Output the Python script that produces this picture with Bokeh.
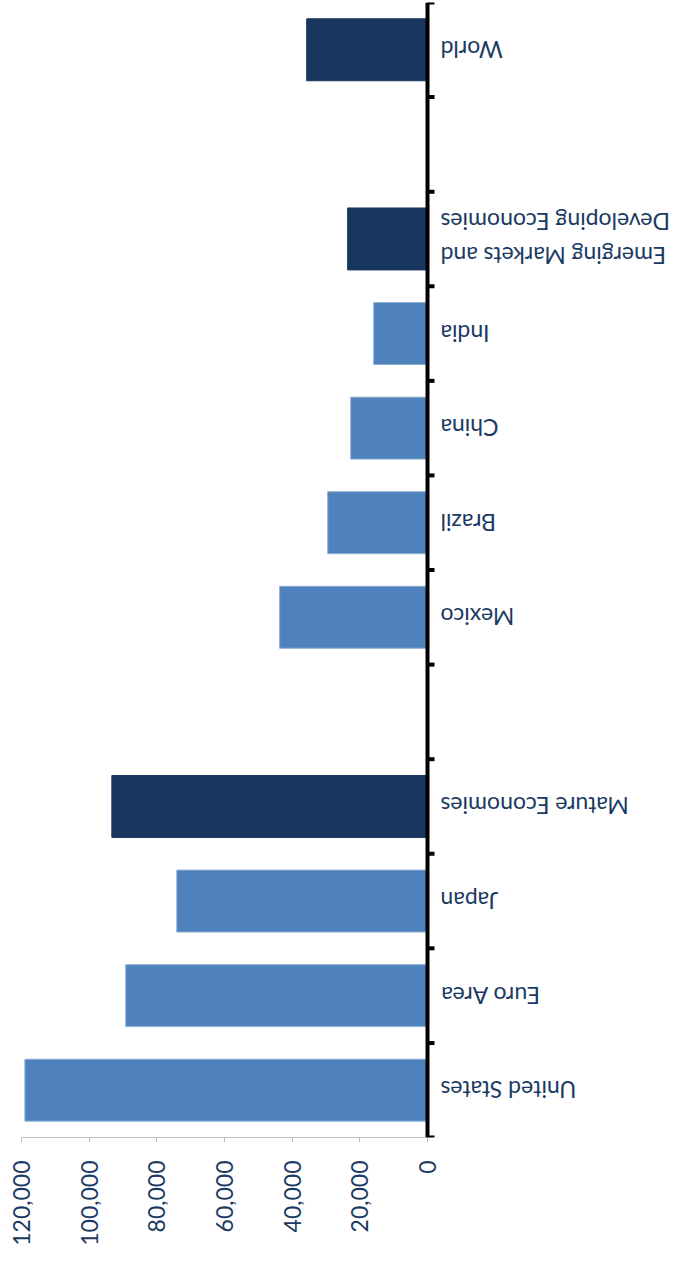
import math
from bokeh.plotting import figure
from bokeh.models import Range1d, FixedTicker, NumeralTickFormatter, Span, ColumnDataSource
from bokeh.core.properties import value
from bokeh.embed import file_html
from bokeh.resources import INLINE

# ---- data (bottom to top) ----
categories = ["United States", "Euro Area", "Japan", "Mature Economies", "",
              "Mexico", "Brazil", "China", "India",
              "Emerging Markets and\nDeveloping Economies", "", "World"]
values = [119000, 89200, 74100, 93300, None,
          43700, 29500, 22700, 15900, 23600, None, 35700]
kinds = ["country", "country", "country", "aggregate", None,
         "country", "country", "country", "country", "aggregate", None, "aggregate"]
value_ticks = [0, 20000, 40000, 60000, 80000, 100000, 120000]

LIGHT = "#4F81BD"
DARK = "#17375E"
TEXT = "#1A3A63"
FONT = "Lato"

# ---- geometry ----
W, H = 673, 1258
BORDER_L = 21
BORDER_T = 2
FRAME_BOTTOM = 1137
FRAME_W = W - BORDER_L
ZERO_PX = 427 - BORDER_L          # zero position inside frame
UNITS_PER_PX = 120000 / ZERO_PX
x_end = -(FRAME_W - ZERO_PX) * UNITS_PER_PX

p = figure(width=W, height=H, output_backend="svg", toolbar_location=None,
           x_range=Range1d(120000, x_end), y_range=Range1d(0, 12),
           min_border_left=BORDER_L, min_border_right=0, min_border_top=BORDER_T,
           min_border_bottom=H - FRAME_BOTTOM)
p.outline_line_color = None
p.grid.visible = False
p.yaxis.visible = False
p.background_fill_color = "white"

# bars
centers = [i + 0.5 for i in range(len(categories))]
bx, by, bc = [], [], []
for c, v, k in zip(centers, values, kinds):
    if v is None:
        continue
    bx.append(v); by.append(c); bc.append(DARK if k == "aggregate" else LIGHT)
src = ColumnDataSource(dict(y=by, right=bx, color=bc,
                            line=[("#8FAFD6" if c == LIGHT else c) for c in bc]))
p.hbar(y="y", left=0, right="right", height=0.655, fill_color="color",
       line_color="line", line_width=1, source=src)

# value axis (bottom)
ax = p.xaxis[0]
ax.bounds = (0, 120000)
ax.ticker = FixedTicker(ticks=value_ticks)
ax.formatter = NumeralTickFormatter(format="0,0")
ax.axis_line_color = "#BFBFBF"
ax.axis_line_width = 1
ax.major_tick_line_color = "#BFBFBF"
ax.major_tick_out = 5
ax.major_tick_in = 0
ax.minor_tick_line_color = None
ax.major_label_orientation = math.pi / 2
ax.major_label_standoff = 18
ax.major_label_text_font = FONT
ax.major_label_text_font_size = "23px"
ax.major_label_text_color = TEXT

# category axis line + ticks
p.add_layout(Span(location=0, dimension="height", line_color="black", line_width=4))
boundaries = list(range(0, len(categories) + 1))
p.ray(x=[0] * len(boundaries), y=boundaries, length=7, length_units="screen",
      angle=0, line_color="black", line_width=4)

# category labels (upside down)
lab = [(c, n) for c, n in zip(centers, categories) if n]
p.text(x=[0] * len(lab), y=[c for c, _ in lab], text=[n for _, n in lab],
       angle=math.pi, x_offset=13, text_align="right", text_baseline="middle",
       text_font=value(FONT), text_font_size="23px", text_color=TEXT,
       text_line_height=1.2)

open("out.html", "w").write(file_html(p, INLINE))
